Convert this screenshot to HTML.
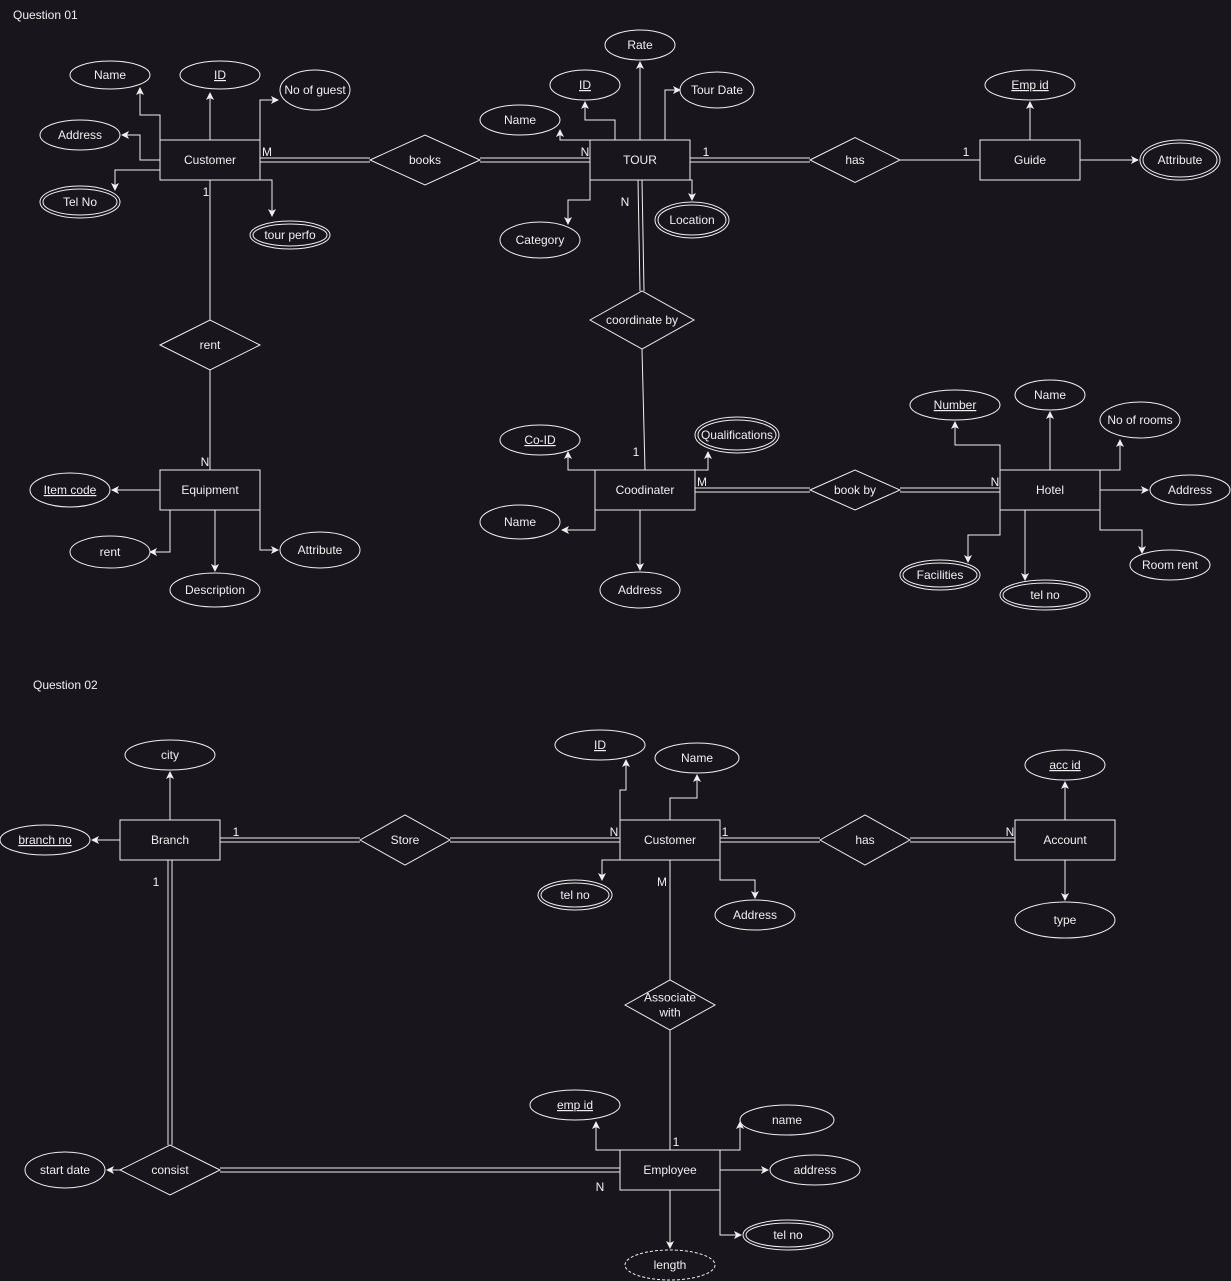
<!DOCTYPE html>
<html><head><meta charset="utf-8"><style>
html,body{margin:0;padding:0;background:#18151d;}
svg{display:block;}
text{font-family:"Liberation Sans",Arial,sans-serif;font-size:12px;fill:#f0f0f0;}
</style></head><body>
<svg id="d" width="1231" height="1281" viewBox="0 0 1231 1281" xmlns="http://www.w3.org/2000/svg">
<defs><marker id="ar" markerWidth="8" markerHeight="8" refX="7" refY="4" orient="auto" markerUnits="userSpaceOnUse"><path d="M0,0 L8,4 L0,8 L2,4 Z" fill="#f0f0f0"/></marker></defs>
<rect width="1231" height="1281" fill="#18151d"/>
</svg>
<script>
const NS="http://www.w3.org/2000/svg";
const svg=document.getElementById('d');
const S="#f0f0f0";
function mk(tag,attrs){const e=document.createElementNS(NS,tag);for(const k in attrs)e.setAttribute(k,attrs[k]);svg.appendChild(e);return e;}
function txt(x,y,s,u,anchor){const t=mk('text',{x:x,y:y+4,'text-anchor':anchor||'middle'});t.textContent=s;if(u)t.setAttribute('text-decoration','underline');return t;}

const entities=[["customer-entity",210,160,"Customer"],["tour-entity",640,160,"TOUR"],["guide-entity",1030,160,"Guide"],["equipment-entity",210,490,"Equipment"],["coordinator-entity",645,490,"Coodinater"],["hotel-entity",1050,490,"Hotel"],["branch-entity",170,840,"Branch"],["customer2-entity",670,840,"Customer"],["account-entity",1065,840,"Account"],["employee-entity",670,1170,"Employee"]];
// name, cx, cy, label, underline, double, dashed, rx, ry
const attrs=[["name-attr",110,75,"Name",0,0,0,40,14],["id-attr",220,75,"ID",1,0,0,40,14],["no-of-guest-attr",315,90,"No of guest",0,0,0,35,20],["address-attr",80,135,"Address",0,0,0,40,15],["tel-no-attr",80,202,"Tel No",0,1,0,40,16],["tour-perfo-attr",290,235,"tour perfo",0,1,0,40,14],
["rate-attr",640,45,"Rate",0,0,0,35,15],["tour-id-attr",585,85,"ID",1,0,0,35,15],["tour-date-attr",717,90,"Tour Date",0,0,0,37,18],["tour-name-attr",520,120,"Name",0,0,0,40,15],["category-attr",540,240,"Category",0,0,0,40,18],["location-attr",692,220,"Location",0,1,0,37,18],
["emp-id-attr",1030,85,"Emp id",1,0,0,45,15],["guide-attribute-attr",1180,160,"Attribute",0,1,0,40,20],
["item-code-attr",70,490,"Item code",1,0,0,40,17],["rent-attr",110,552,"rent",0,0,0,40,16],["description-attr",215,590,"Description",0,0,0,45,17],["equip-attribute-attr",320,550,"Attribute",0,0,0,40,18],
["co-id-attr",540,440,"Co-ID",1,0,0,40,15],["qualifications-attr",737,435,"Qualifications",0,1,0,42,18],["coord-name-attr",520,522,"Name",0,0,0,40,17],["coord-address-attr",640,590,"Address",0,0,0,40,18],
["number-attr",955,405,"Number",1,0,0,45,15],["hotel-name-attr",1050,395,"Name",0,0,0,35,15],["no-of-rooms-attr",1140,420,"No of rooms",0,0,0,40,18],["hotel-address-attr",1190,490,"Address",0,0,0,40,15],["room-rent-attr",1170,565,"Room rent",0,0,0,40,15],["hotel-tel-attr",1045,595,"tel no",0,1,0,45,15],["facilities-attr",940,575,"Facilities",0,1,0,40,15],
["city-attr",170,755,"city",0,0,0,45,15],["branch-no-attr",45,840,"branch no",1,0,0,45,15],["cust-id-attr",600,745,"ID",1,0,0,45,15],["cust-name-attr",697,758,"Name",0,0,0,42,15],["cust-tel-attr",575,895,"tel no",0,1,0,37,15],["cust-address-attr",755,915,"Address",0,0,0,40,15],
["acc-id-attr",1065,765,"acc id",1,0,0,40,15],["type-attr",1065,920,"type",0,0,0,50,18],
["emp-id2-attr",575,1105,"emp id",1,0,0,45,15],["emp-name-attr",787,1120,"name",0,0,0,47,15],["emp-address-attr",815,1170,"address",0,0,0,45,15],["emp-tel-attr",788,1235,"tel no",0,1,0,45,15],["length-attr",670,1265,"length",0,0,1,45,15],["start-date-attr",65,1170,"start date",0,0,0,40,18]];
const rels=[["books-rel",425,160,110,50,"books"],["has-rel",855,160,90,45,"has"],["coordinate-by-rel",642,320,104,58,"coordinate by"],["rent-rel",210,345,100,50,"rent"],["book-by-rel",855,490,90,40,"book by"],["store-rel",405,840,90,50,"Store"],["has2-rel",865,840,90,50,"has"],["associate-with-rel",670,1005,90,50,"Associate|with"],["consist-rel",170,1170,100,50,"consist"]];
// arrow paths
const arrows=[["to-name","160,140 160,115 140,115 140,88"],["to-id","210,140 210,93"],["to-no-of-guest","260,140 260,100 278,100"],["to-address","160,160 140,160 140,135 122,135"],["to-tel-no","160,170 115,170 115,190"],["to-tour-perfo","260,180 272,180 272,216"],
["to-rate","640,140 640,62"],["to-tour-id","615,140 615,120 585,120 585,102"],["to-tour-date","665,140 665,90 680,90"],["to-tour-name","590,140 560,140 560,130"],["to-category","590,180 590,200 568,200 568,224"],["to-location","690,180 692,180 692,200"],
["to-emp-id","1030,140 1030,102"],["to-guide-attribute","1080,160 1138,160"],
["to-item-code","160,490 112,490"],["to-rent","170,510 170,552 150,552"],["to-description","215,510 215,571"],["to-equip-attribute","260,510 260,550 278,550"],
["to-co-id","595,470 568,470 568,452"],["to-qualifications","695,470 708,470 708,452"],["to-coord-name","595,510 595,530 562,530"],["to-coord-address","640,510 640,570"],
["to-number","1000,470 1000,445 955,445 955,422"],["to-hotel-name","1050,470 1050,412"],["to-no-of-rooms","1100,470 1120,470 1120,440"],["to-hotel-address","1100,490 1148,490"],["to-room-rent","1100,510 1100,530 1142,530 1142,553"],["to-hotel-tel","1025,510 1025,580"],["to-facilities","1000,510 1000,535 968,535 968,562"],
["to-city","170,820 170,772"],["to-branch-no","120,840 92,840"],["to-cust-id","620,820 620,790 626,790 626,760"],["to-cust-name","670,820 670,798 697,798 697,775"],["to-cust-tel","620,860 602,860 602,880"],["to-cust-address","720,860 720,880 755,880 755,898"],
["to-acc-id","1065,820 1065,782"],["to-type","1065,860 1065,900"],
["to-emp-id2","620,1150 596,1150 596,1122"],["to-emp-name","720,1150 740,1150 740,1122"],["to-emp-address","720,1170 768,1170"],["to-emp-tel","720,1190 720,1235 741,1235"],["to-length","670,1190 670,1248"],["to-start-date","120,1170 107,1170"]];
const singles=[["customer-rent-line","210,180 210,320"],["rent-equipment-line","210,370 210,470"],["has-guide-line","900,160 980,160"],["coordinate-coord-line","642,349 645,470"],["customer-associate-line","670,860 670,980"],["associate-employee-line","670,1030 670,1150"]];
const doubles=[["customer-books-line",260,160,370,160],["books-tour-line",480,160,590,160],["tour-has-line",690,160,810,160],["tour-coordinate-line",640,180,642,291],["coord-bookby-line",695,490,810,490],["bookby-hotel-line",900,490,1000,490],["branch-store-line",220,840,360,840],["store-customer-line",450,840,620,840],["customer-has-line",720,840,820,840],["has-account-line",910,840,1015,840],["branch-consist-line",170,860,170,1145],["consist-employee-line",220,1170,620,1170]];
const cards=[["card-m1",267,152,"M"],["card-n1",585,152,"N"],["card-1a",706,152,"1"],["card-1b",966,152,"1"],["card-n2",625,202,"N"],["card-1c",636,452,"1"],["card-1d",206,192,"1"],["card-n3",205,462,"N"],["card-m2",702,482,"M"],["card-n4",995,482,"N"],["card-1e",236,832,"1"],["card-n5",614,832,"N"],["card-1f",725,832,"1"],["card-n6",1010,832,"N"],["card-m3",662,882,"M"],["card-1g",676,1142,"1"],["card-1h",156,882,"1"],["card-n7",600,1187,"N"]];

singles.forEach(s=>{const e=mk('polyline',{points:s[1],fill:'none',stroke:S,'stroke-width':1});

});
doubles.forEach(d=>{const [n,x1,y1,x2,y2]=d;const v=x1===x2||Math.abs(x1-x2)<5;const g=mk('g',{});


const o=2;[-o,o].forEach(k=>{const l=document.createElementNS(NS,'line');const a=v?{x1:x1+k,y1:y1,x2:x2+k,y2:y2}:{x1:x1,y1:y1+k,x2:x2,y2:y2+k};for(const q in a)l.setAttribute(q,a[q]);l.setAttribute('stroke',S);g.appendChild(l);});});
arrows.forEach(a=>{const e=mk('polyline',{points:a[1],fill:'none',stroke:S,'stroke-width':1,'marker-end':'url(#ar)'});

});
entities.forEach(en=>{const [n,cx,cy,l]=en;const r=mk('rect',{x:cx-50,y:cy-20,width:100,height:40,fill:'#18151d',stroke:S});


txt(cx,cy,l);});
attrs.forEach(a=>{const [n,cx,cy,l,u,dbl,dash,rx,ry]=a;const e=mk('ellipse',{cx:cx,cy:cy,rx:rx,ry:ry,fill:'#18151d',stroke:S});
if(dash)e.setAttribute('stroke-dasharray','3,2');


if(dbl)mk('ellipse',{cx:cx,cy:cy,rx:rx-3,ry:ry-3,fill:'none',stroke:S});
txt(cx,cy,l,u);});
rels.forEach(r=>{const [n,cx,cy,w,h,l]=r;const p=mk('polygon',{points:`${cx-w/2},${cy} ${cx},${cy-h/2} ${cx+w/2},${cy} ${cx},${cy+h/2}`,fill:'#18151d',stroke:S});


const parts=l.split('|');parts.forEach((s,i)=>txt(cx,cy+(i-(parts.length-1)/2)*15,s));});
cards.forEach(c=>{const t=txt(c[1],c[2],c[3]);

});
const q1=txt(13,15,"Question 01",0,'start');


const q2=txt(33,685,"Question 02",0,'start');


</script>
</body></html>
